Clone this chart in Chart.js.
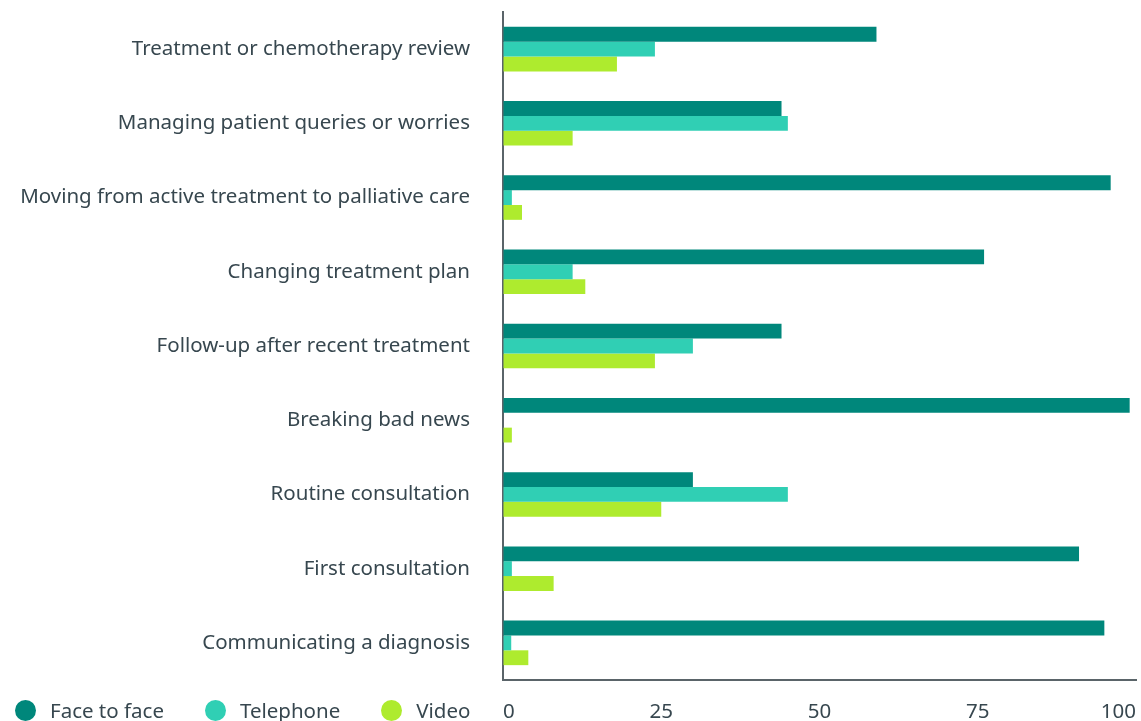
<!DOCTYPE html>
<html>
<head>
<meta charset="utf-8">
<script src="https://cdn.jsdelivr.net/npm/chart.js@4"></script>
<style>
  body { margin: 0; background: #fff; }
  #wrap { position: relative; width: 1141px; height: 721px; }
  #legend { position: absolute; left: 15px; top: 697px; height: 26px; display: flex; align-items: center;
            font-family: "Noto Sans", sans-serif; font-size: 20.5px; color: #37474f; }
  #legend .item { display: flex; align-items: center; margin-right: 41px; white-space: nowrap; }
  #legend .dot { width: 21px; height: 21px; border-radius: 50%; margin-right: 14px; }
</style>
</head>
<body>
<div id="wrap">
  <canvas id="myChart" width="1141" height="721"></canvas>
  <div id="legend"></div>
</div>
<script>
// Sample data
const labels = [
    'Treatment or chemotherapy review',
    'Managing patient queries or worries',
    'Moving from active treatment to palliative care',
    'Changing treatment plan',
    'Follow-up after recent treatment',
    'Breaking bad news',
    'Routine consultation',
    'First consultation',
    'Communicating a diagnosis'
];
const faceToFace = [59, 44, 96, 76, 44, 99, 30, 91, 95];
const telephone = [24, 45, 1.4, 11, 30, 0, 45, 1.4, 1.3];
const video = [18, 11, 3, 13, 24, 1.4, 25, 8, 4];
const xTicks = [0, 25, 50, 75, 100];

const textColor = '#37474f';
const axisColor = '#5a6469';
Chart.defaults.font.family = '"Noto Sans", sans-serif';
Chart.defaults.font.size = 20.5;
Chart.defaults.color = textColor;

const data = {
    labels: labels,
    datasets: [
        { label: 'Face to face', data: faceToFace, backgroundColor: '#00877b' },
        { label: 'Telephone', data: telephone, backgroundColor: '#30cfb4' },
        { label: 'Video', data: video, backgroundColor: '#aeeb2e' }
    ]
};

// keep the plot area where the reference has it
const noPad = (scale) => {
    scale.paddingTop = 0;
    scale.paddingBottom = 0;
    scale.paddingLeft = 0;
    scale.paddingRight = 0;
};

const config = {
    type: 'bar',
    data: data,
    options: {
        indexAxis: 'y',
        responsive: false,
        animation: false,
        categoryPercentage: 0.6,
        barPercentage: 1.0,
        layout: { padding: { top: 12, right: 5, left: 0, bottom: 0 } },
        plugins: {
            legend: { display: false },
            tooltip: { enabled: false }
        },
        scales: {
            x: {
                min: 0,
                max: 100,
                grid: { display: true, color: 'rgba(0,0,0,0)', drawTicks: false },
                border: { display: true, color: axisColor, width: 2 },
                afterBuildTicks: (scale) => { scale.ticks = xTicks.map(v => ({ value: v })); },
                afterFit: (scale) => { scale.height = 41; noPad(scale); },
                ticks: { padding: 20, align: 'inner', maxRotation: 0 }
            },
            y: {
                grid: { display: true, color: 'rgba(0,0,0,0)', drawTicks: false },
                border: { display: true, color: axisColor, width: 2 },
                afterFit: (scale) => { scale.width = 503; noPad(scale); },
                ticks: { padding: 33, autoSkip: false }
            }
        }
    }
};

// Render the chart
const myChart = new Chart(
    document.getElementById('myChart'),
    config
);

// Legend along the bottom, built from the datasets
const legendEl = document.getElementById('legend');
myChart.data.datasets.forEach(ds => {
    const item = document.createElement('div');
    item.className = 'item';
    item.innerHTML = '<span class="dot" style="background:' + ds.backgroundColor + '"></span>' + ds.label;
    legendEl.appendChild(item);
});
</script>
</body>
</html>
